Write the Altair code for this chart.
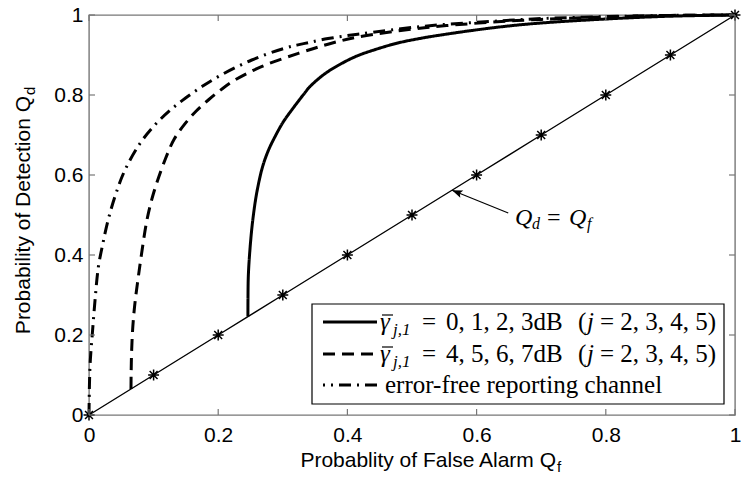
import altair as alt
import pandas as pd

# ---------------- data ----------------
EF_X = [0.000, 0.0005, 0.0015, 0.003, 0.005, 0.0095, 0.0145, 0.021, 0.030, 0.042, 0.0557, 0.079,
        0.102, 0.125, 0.149, 0.175, 0.200, 0.252, 0.303, 0.334, 0.370, 0.416, 0.519, 0.622, 0.700,
        0.800, 0.900, 1.000]
EF_Y = [0.000, 0.060, 0.120, 0.160, 0.200, 0.290, 0.370, 0.425, 0.490, 0.555, 0.6125, 0.679,
        0.725, 0.761, 0.792, 0.821, 0.846, 0.8875, 0.917, 0.929, 0.941, 0.952, 0.972, 0.984, 0.991,
        0.996, 0.999, 1.000]

D_X = [0.065, 0.0652, 0.0658, 0.0669, 0.0686, 0.0715, 0.0764, 0.082, 0.090, 0.100, 0.1176, 0.132,
       0.149, 0.166, 0.1847, 0.205, 0.226, 0.267, 0.324, 0.370, 0.416, 0.519, 0.622, 0.700, 0.800,
       0.900, 1.000]
D_Y = [0.065, 0.100, 0.150, 0.195, 0.2375, 0.285, 0.346, 0.410, 0.490, 0.555, 0.6375, 0.690,
       0.729, 0.760, 0.7875, 0.814, 0.8375, 0.871, 0.904, 0.927, 0.945, 0.968, 0.982, 0.989, 0.995,
       0.999, 1.000]

S_X = [0.246, 0.2461, 0.2466, 0.2485, 0.2518, 0.2545, 0.258, 0.262, 0.2673, 0.273, 0.280, 0.288,
       0.300, 0.3138, 0.3344, 0.342, 0.365, 0.389, 0.414, 0.440, 0.478, 0.518, 0.557, 0.596, 0.652,
       0.700, 0.800, 0.900, 1.000]
S_Y = [0.246, 0.290, 0.346, 0.400, 0.4625, 0.500, 0.540, 0.575, 0.6125, 0.642, 0.670, 0.696,
       0.731, 0.7625, 0.806, 0.821, 0.853, 0.877, 0.897, 0.912, 0.930, 0.943, 0.953, 0.962, 0.973,
       0.980, 0.990, 0.997, 1.000]

DIAG = [0.0, 0.1, 0.2, 0.3, 0.4, 0.5, 0.6, 0.7, 0.8, 0.9, 1.0]
TICKS = [0.0, 0.2, 0.4, 0.6, 0.8, 1.0]

SERIES = ["solid", "dashed", "errfree"]

# annotation arrow (data units): from the label to the Qd = Qf line
ARROW_FROM = (0.649, 0.505)
ARROW_TO = (0.562, 0.562)

# ---------------- layout ----------------
W, H = 646, 400
OX, OY = 89, 15  # plot origin in page pixels

rows = []
for name, xs_, ys_ in [("solid", S_X, S_Y), ("dashed", D_X, D_Y), ("errfree", EF_X, EF_Y)]:
    for i, (a, b) in enumerate(zip(xs_, ys_)):
        rows.append({"series": name, "idx": i, "x": a, "y": b})
curves_df = pd.DataFrame(rows)
diag_df = pd.DataFrame({"x": DIAG, "y": DIAG})
tick_df = pd.DataFrame({"x": TICKS, "y": TICKS})
arrow_df = pd.DataFrame({"x": [ARROW_FROM[0]], "y": [ARROW_FROM[1]],
                         "x2": [ARROW_TO[0]], "y2": [ARROW_TO[1]]})
tip_df = pd.DataFrame({"x": [ARROW_TO[0]], "y": [ARROW_TO[1]]})
ONE = pd.DataFrame({"k": [0]})

xs = alt.Scale(domain=[0, 1], nice=False, zero=False)
ys = alt.Scale(domain=[0, 1], nice=False, zero=False)

FRAME = "#777777"
SANS = "Liberation Sans"
SERIF = "Liberation Serif"

xaxis = alt.Axis(values=TICKS, format="~g", ticks=False, domain=False, grid=False,
                 labelFont=SANS, labelFontSize=21, labelColor="black",
                 labelPadding=9, labelFlush=False, labelOverlap=False, title=None)
yaxis = alt.Axis(values=TICKS, format="~g", ticks=False, domain=False, grid=False,
                 labelFont=SANS, labelFontSize=21, labelColor="black",
                 labelPadding=6, labelFlush=False, labelOverlap=False, title=None)


def X():
    return alt.X("x:Q", scale=xs, axis=xaxis)


def Y():
    return alt.Y("y:Q", scale=ys, axis=yaxis)


curves = alt.Chart(curves_df).mark_line(color="black", strokeWidth=3, interpolate="catmull-rom").encode(
    x=X(), y=Y(),
    strokeDash=alt.StrokeDash("series:N", scale=alt.Scale(domain=SERIES,
                              range=[[1, 0], [12, 7], [12, 6, 2, 6]]), legend=None),
    order="idx:Q",
)

diag_line = alt.Chart(diag_df).mark_line(color="black", strokeWidth=1.4).encode(x=X(), y=Y())

STAR = "M0,-1L0,1M-1,0L1,0M-0.72,-0.72L0.72,0.72M-0.72,0.72L0.72,-0.72"
diag_pts = alt.Chart(diag_df).mark_point(shape=STAR, size=120, filled=False, color="black",
                                         strokeWidth=1.5, opacity=1).encode(x=X(), y=Y())

arrow = alt.Chart(arrow_df).mark_rule(color="black", strokeWidth=1.2).encode(
    x=X(), y=Y(), x2="x2:Q", y2="y2:Q")
HEAD = "M0,0L-0.38,1L0,0.8L0.38,1Z"
arrow_head = alt.Chart(tip_df).mark_point(shape=HEAD, size=440, filled=True, color="black",
                                          angle=292, opacity=1).encode(x=X(), y=Y())

# inward ticks on all four sides
tick_style = dict(color=FRAME, strokeWidth=1.2)
tk_bottom = alt.Chart(tick_df).mark_rule(**tick_style).encode(
    x=X(), y=alt.value(H), y2=alt.value(H - 6))
tk_top = alt.Chart(tick_df).mark_rule(**tick_style).encode(
    x=X(), y=alt.value(0), y2=alt.value(6))
tk_left = alt.Chart(tick_df).mark_rule(**tick_style).encode(
    y=Y(), x=alt.value(0), x2=alt.value(6))
tk_right = alt.Chart(tick_df).mark_rule(**tick_style).encode(
    y=Y(), x=alt.value(W), x2=alt.value(W - 6))


def txt(px, py, s, size=24, font=SERIF, style="normal", align="left",
        baseline="alphabetic", angle=0):
    return alt.Chart(ONE).mark_text(text=s, font=font, fontSize=size, fontStyle=style, align=align,
                                    baseline=baseline, angle=angle, color="black").encode(
        x=alt.value(px - OX), y=alt.value(py - OY))


def hline(px1, px2, py, width=1.3):
    return alt.Chart(ONE).mark_rule(color="black", strokeWidth=width).encode(
        x=alt.value(px1 - OX), x2=alt.value(px2 - OX), y=alt.value(py - OY))


# axis titles
titles = [
    txt(556, 467, "Probablity of False Alarm Q", size=21, font=SANS, align="right"),
    txt(557, 472, "f", size=15, font=SANS),
    txt(30, 96, "Probability of Detection Q", size=21, font=SANS, align="right", angle=270),
    txt(35, 95, "d", size=15, font=SANS, angle=270),
]

# annotation text  Q_d = Q_f
annot = [
    txt(515, 225, "Q", size=24, style="italic"),
    txt(532, 229, "d", size=16, style="italic"),
    txt(547, 225, "=", size=24),
    txt(569, 225, "Q", size=24, style="italic"),
    txt(587, 229, "f", size=16, style="italic"),
]

# legend
LX1, LX2, LY1, LY2 = 312, 724, 304, 404
ROWS = [322, 354, 385]
SAMPLE_X1, SAMPLE_X2 = 323, 377
legend_box = alt.Chart(ONE).mark_rect(fill="white", stroke="black", strokeWidth=1.2).encode(
    x=alt.value(LX1 - OX), x2=alt.value(LX2 - OX), y=alt.value(LY1 - OY), y2=alt.value(LY2 - OY))
dashes = [[1, 0], [12, 7], [12, 6, 2, 6]]
offsets = [0, 0, 10]
samples = []
for r, d, o in zip(ROWS, dashes, offsets):
    samples.append(alt.Chart(ONE).mark_rule(color="black", strokeWidth=3, strokeDash=d,
                                            strokeDashOffset=o).encode(
        x=alt.value(SAMPLE_X1 - OX), x2=alt.value(SAMPLE_X2 - OX), y=alt.value(r - OY)))

LEG_VALS = ["0, 1, 2, 3dB", "4, 5, 6, 7dB"]
leg_texts = []
for r, vals in zip(ROWS[:2], LEG_VALS):
    b = r + 8
    leg_texts += [
        txt(380, b, "\u03b3", size=25, style="italic"),
        hline(382, 393, b - 15, 1.2),
        txt(393, b + 5, "j,1", size=17, style="italic"),
        txt(422, b, "=", size=25),
        txt(446, b, vals, size=25),
        txt(578, b, "(", size=25),
        txt(587, b, "j", size=25, style="italic"),
        txt(600, b, "= 2, 3, 4, 5)", size=25),
    ]
leg_texts.append(txt(385, ROWS[2] + 8, "error-free reporting channel", size=25))

chart = alt.layer(
    curves, diag_line, diag_pts, arrow, arrow_head,
    tk_bottom, tk_top, tk_left, tk_right,
    *titles, *annot, legend_box, *samples, *leg_texts,
).properties(
    width=W, height=H,
    autosize=alt.AutoSizeParams(type="none"),
    padding={"left": OX, "top": OY, "right": 741 - OX - W, "bottom": 480 - OY - H},
    background="white",
).configure_view(stroke=FRAME, strokeWidth=1.4)

chart.save("out.html", embed_options={"renderer": "svg", "actions": False})
